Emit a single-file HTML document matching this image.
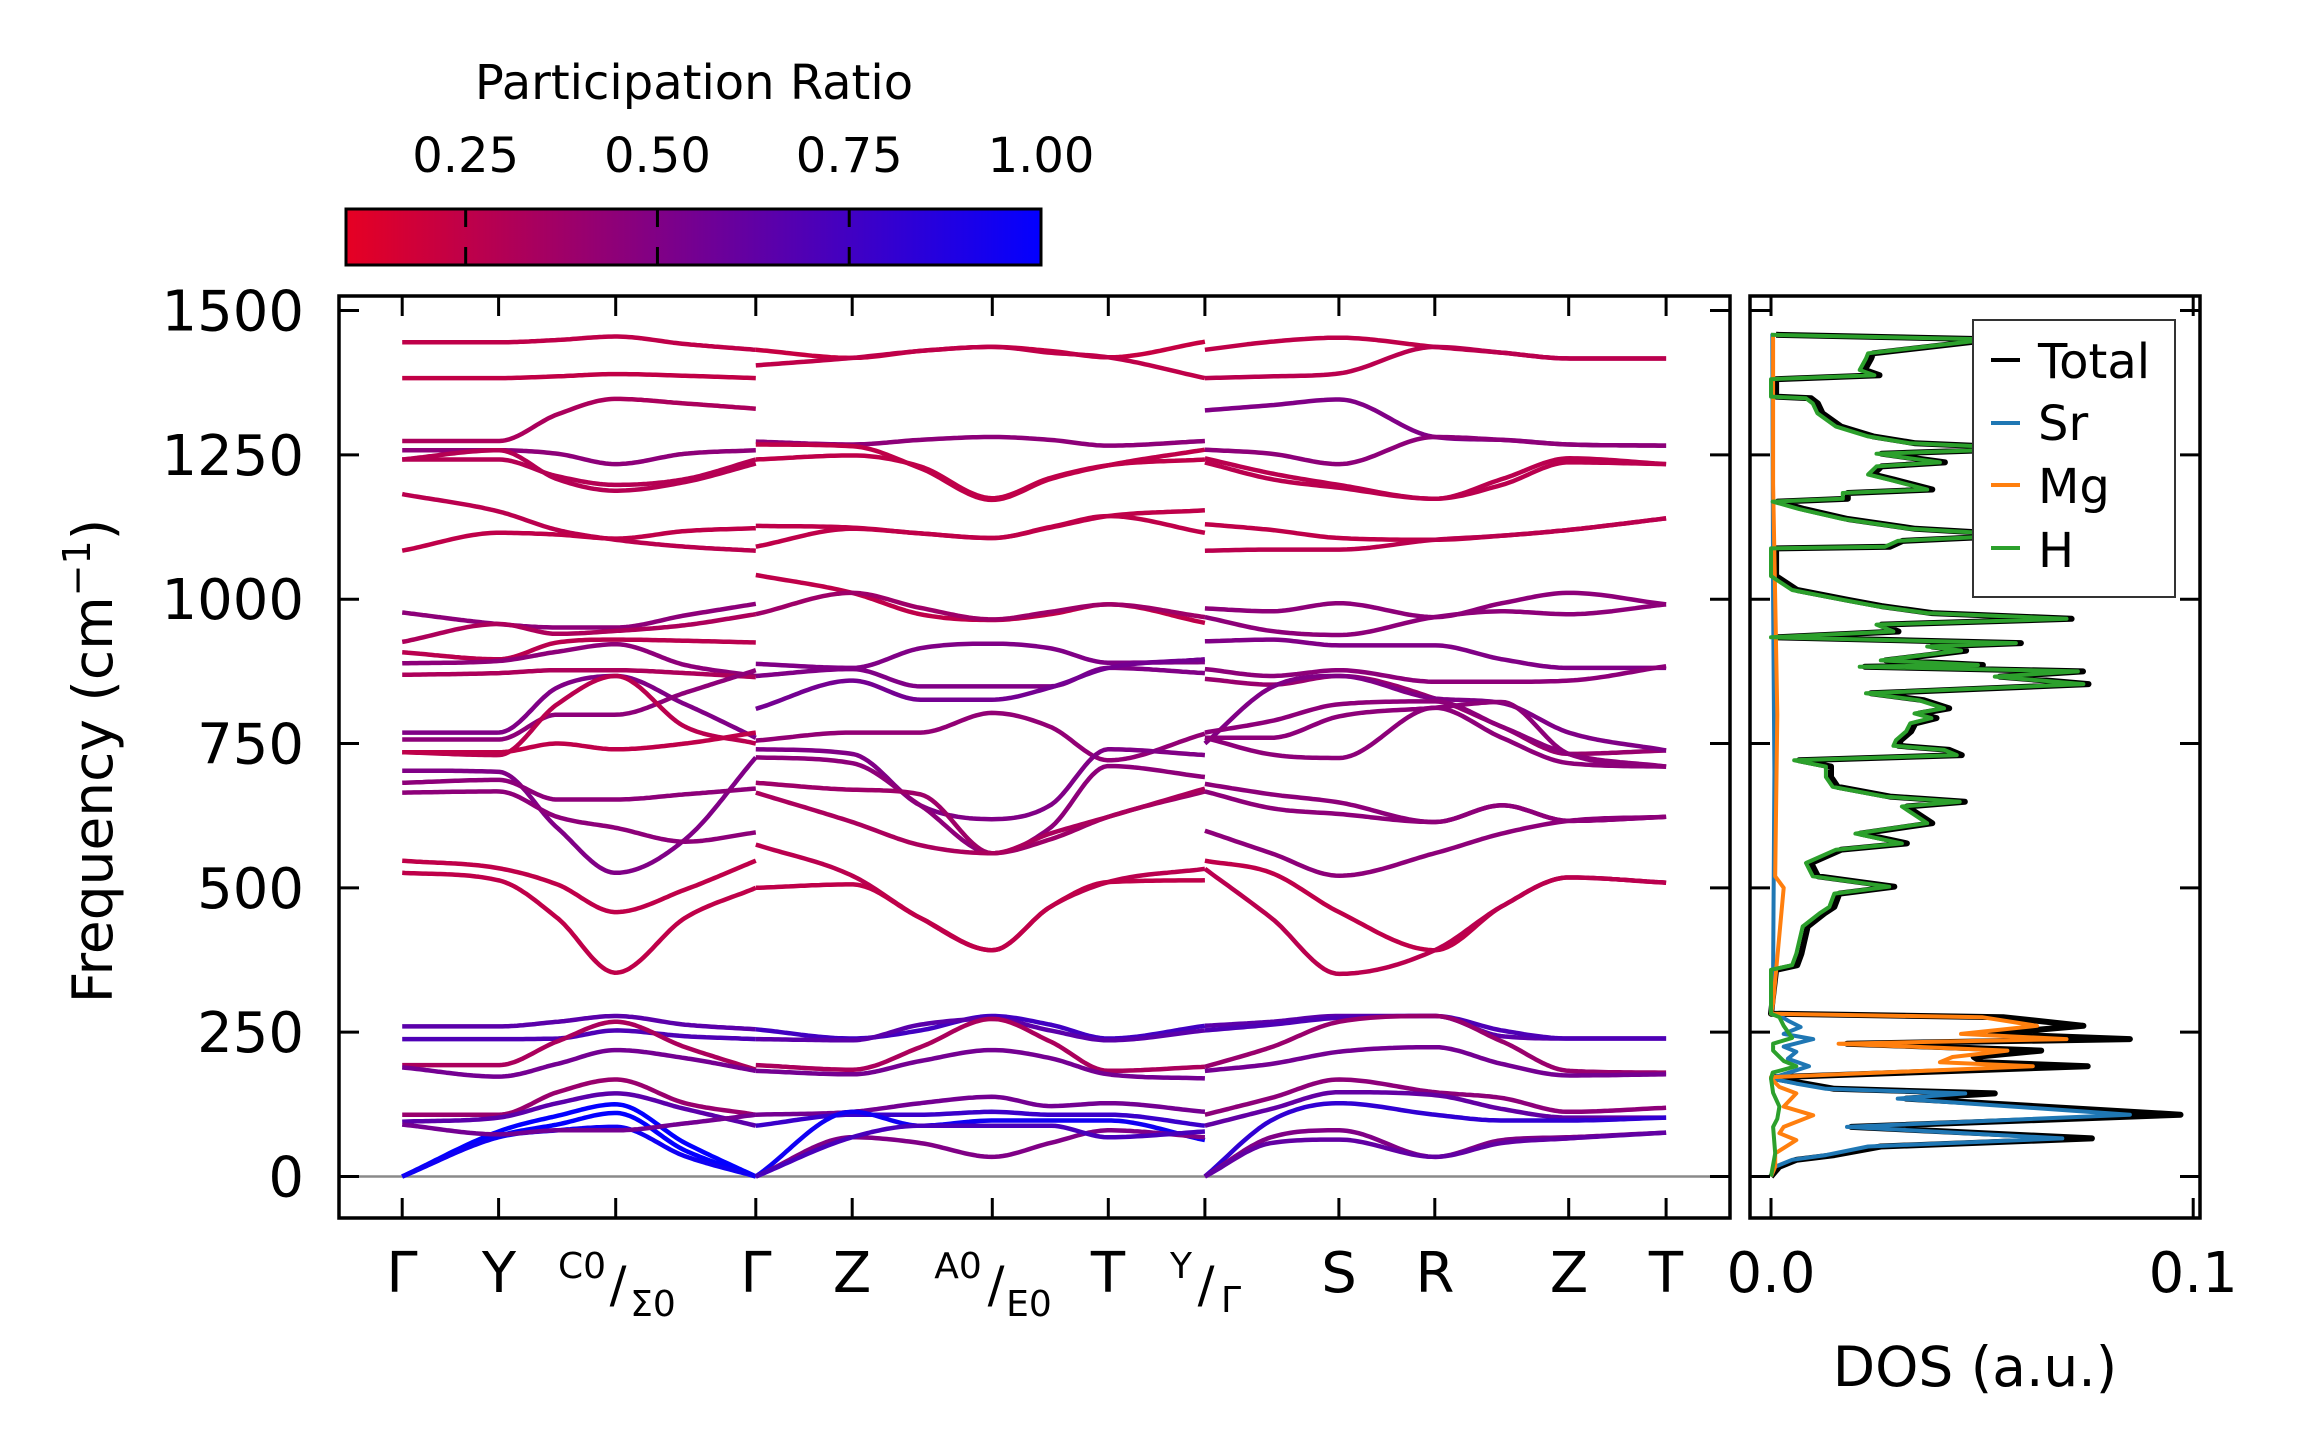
<!DOCTYPE html>
<html><head><meta charset="utf-8"><style>
html,body{margin:0;padding:0;background:#fff;}
svg{display:block;font-family:"DejaVu Sans","Liberation Sans",sans-serif;}
</style></head><body>
<svg id="fig" xmlns="http://www.w3.org/2000/svg" width="2298" height="1455" viewBox="0 0 2298 1455">
<rect x="0" y="0" width="2298" height="1455" fill="#fff"/>
<defs><linearGradient id="cmap" x1="0" x2="1" y1="0" y2="0"><stop offset="0" stop-color="rgb(230,0,35)"/><stop offset="1" stop-color="rgb(3,0,255)"/></linearGradient></defs>
<g id="colorbar">
<text x="694" y="99" font-size="48" text-anchor="middle">Participation Ratio</text>
<rect x="346" y="209" width="695" height="56" fill="url(#cmap)" stroke="#000" stroke-width="3"/>
</g>
<g id="bands"></g>
<g id="dos"></g>
<g id="axes"></g>
<text transform="translate(112,761) rotate(-90)" font-size="55" text-anchor="middle">Frequency (cm<tspan font-size="38" dy="-22">−1</tspan><tspan dy="22">)</tspan></text>
<text x="1975" y="1386" font-size="55" text-anchor="middle">DOS (a.u.)</text>
<g font-size="56" text-anchor="middle">
<text x="402" y="1292">Γ</text><text x="499" y="1292">Y</text>
<text x="582" y="1278" font-size="36">C0</text><text x="618" y="1302" font-size="50">/</text><text x="653" y="1316" font-size="36">Σ0</text>
<text x="756" y="1292">Γ</text><text x="852" y="1292">Z</text>
<text x="958" y="1278" font-size="36">A0</text><text x="996" y="1302" font-size="50">/</text><text x="1029" y="1316" font-size="36">E0</text>
<text x="1108" y="1292">T</text>
<text x="1181" y="1278" font-size="36">Y</text><text x="1206" y="1302" font-size="50">/</text><text x="1231" y="1312" font-size="36">Γ</text>
<text x="1339" y="1292">S</text><text x="1435" y="1292">R</text><text x="1569" y="1292">Z</text><text x="1666" y="1292">T</text>
</g>
<g>
<rect x="1973" y="320" width="202" height="277" fill="#fff" stroke="#333" stroke-width="2"/>
<line x1="1991" x2="2020" y1="360" y2="360" stroke="#000" stroke-width="4"/>
<text x="2038" y="378" font-size="48">Total</text>
<line x1="1991" x2="2020" y1="423" y2="423" stroke="#1f77b4" stroke-width="4"/>
<text x="2038" y="440" font-size="48">Sr</text>
<line x1="1991" x2="2020" y1="485" y2="485" stroke="#ff7f0e" stroke-width="4"/>
<text x="2038" y="503" font-size="48">Mg</text>
<line x1="1991" x2="2020" y1="548" y2="548" stroke="#2ca02c" stroke-width="4"/>
<text x="2038" y="567" font-size="48">H</text>
</g>
</svg>
<script>
const freqTicks=[0,250,500,750,1000,1250,1500];
const kTickPos=[0,0.0964,0.2135,0.3536,0.45,0.5901,0.7061,0.8027,0.9367,1.0326,1.1665,1.2639];
const cbTicks=[0.25,0.5,0.75,1.0];
const cbTickLabels=["0.25","0.50","0.75","1.00"];
const dosTicks=[0.0,0.1];
const dosTickLabels=["0.0","0.1"];

const p1K=[0,0.0964,0.155,0.2135,0.283,0.3536];
const p1Bands=[
[1445,1445,1449,1455,1442,1432],[1383,1383,1386,1390,1387,1383],[1274,1274,1320,1347,1339,1330],
[1258,1258,1252,1234,1252,1258],[1242,1242,1213,1198,1208,1242],[1242,1258,1208,1188,1203,1235],
[1182,1152,1120,1103,1091,1084],[1084,1115,1112,1105,1118,1123],[977,957,951,951,972,992],
[926,957,940,945,955,974],[908,896,925,930,928,925],[889,893,909,922,886,867],[869,872,877,877,872,865],
[769,769,847,867,818,760],[757,757,800,800,838,877],[735,730,818,867,779,750],[735,735,750,740,750,769],
[703,701,604,526,584,726],[682,687,653,653,662,672],[665,667,623,604,580,596],[547,534,506,458,497,547],
[526,513,448,353,448,500],[260,260,268,278,263,255],[238,238,239,253,243,238],[193,193,234,268,224,185],
[189,173,195,219,205,183],[107,107,146,168,127,107],[95,102,127,144,117,88],[0,78,105,125,58,0],
[0,70,90,110,45,0],[0,68,80,86,35,0],[90,73,80,80,92,107]];
const p1PR=[.25,.24,.33,.45,.29,.29,.27,.25,.45,.32,.27,.45,.32,.5,.45,.27,.25,.5,.45,.45,.25,.25,.65,.7,.33,.55,.4,.65,1.0,1.0,.95,.55];

const p2K=[0.3536,0.45,0.518,0.5901,0.648,0.7061,0.8027];
const p2Bands=[
[1432,1418,1430,1437,1430,1419,1446],[1405,1418,1430,1437,1427,1419,1383],[1273,1268,1276,1281,1276,1266,1274],
[1268,1265,1227,1172,1208,1232,1259],[1242,1249,1230,1175,1210,1232,1242],[1127,1124,1114,1106,1124,1144,1154],
[1091,1122,1114,1106,1125,1144,1115],[1042,1011,974,964,974,991,959],[974,1011,985,965,978,991,969],
[888,881,915,923,915,890,891],[867,879,849,849,849,881,872],[810,859,826,826,847,881,896],
[755,769,769,803,779,721,767],[740,732,643,619,643,740,730],[726,716,643,560,604,711,692],
[682,670,662,560,584,623,667],[665,614,574,560,594,623,672],[575,521,448,392,467,510,533],
[500,506,448,392,467,510,513],[255,239,253,278,263,239,261],[238,236,263,273,253,236,253],
[193,185,224,273,234,183,190],[183,177,200,219,205,177,170],[107,112,127,138,122,127,112],
[88,107,107,112,107,107,88],[0,112,88,97,97,97,63],[0,68,58,34,58,80,68],[0,68,88,88,88,68,78]];
const p2PR=[.22,.25,.45,.25,.25,.25,.25,.25,.38,.5,.5,.55,.43,.5,.45,.38,.33,.27,.25,.75,.65,.33,.55,.55,.78,.95,.5,.72];

const p3K=[0.8027,0.869,0.9367,1.0326,1.0997,1.1665,1.2639];
const p3Bands=[
[1432,1446,1453,1437,1427,1417,1417],[1383,1386,1391,1437,1427,1417,1417],[1327,1336,1346,1281,1276,1268,1266],
[1259,1252,1234,1281,1276,1268,1266],[1244,1218,1198,1174,1208,1244,1234],[1237,1208,1193,1174,1198,1237,1234],
[1130,1120,1106,1103,1110,1120,1140],[1084,1086,1086,1103,1110,1120,1140],[984,979,993,969,993,1011,991],
[969,945,938,969,979,974,991],[927,930,920,920,896,881,881],[879,867,877,857,857,859,884],
[862,852,867,828,779,732,738],[750,847,867,828,820,769,738],[769,789,818,823,779,732,710],
[760,760,797,812,822,732,710],[760,731,725,812,760,716,710],[680,662,648,614,643,616,623],
[667,638,628,614,643,616,623],[599,560,521,560,594,616,623],[547,526,458,392,468,518,509],
[533,448,351,392,468,518,509],[261,268,278,278,243,239,239],[253,263,275,278,253,239,239],
[190,224,268,278,234,183,180],[183,195,216,224,195,175,177],[107,136,168,146,136,112,119],
[88,117,146,141,117,102,102],[0,97,127,107,97,97,102],[0,68,80,34,63,68,76],[0,58,64,34,58,66,76]];
const p3PR=[.25,.27,.5,.45,.27,.27,.25,.27,.45,.45,.5,.45,.4,.5,.45,.45,.45,.45,.45,.45,.25,.27,.65,.7,.4,.55,.45,.62,.82,.5,.62];

const hFreq=[0,40,86,100,121,145,170,180,191,200,218,230,240,261,276,282,358,366,386,433,456,467,490,502,509,520,543,566,577,594,612,641,649,658,675,692,710,721,730,739,746,756,771,785,794,802,811,825,837,853,866,875,883,886,894,911,918,924,934,944,956,966,976,988,999,1016,1040,1088,1091,1101,1111,1122,1139,1156,1169,1174,1184,1190,1207,1216,1230,1237,1252,1261,1270,1282,1299,1322,1339,1348,1351,1381,1388,1397,1417,1426,1450,1458];
const hDos=[0,0.001,0.0005,0.0015,0.002,0.0005,0,0.0004,0.006,0.003,0.0005,0.0005,0.005,0.003,0.002,0,0,0.005,0.006,0.0075,0.0115,0.0138,0.015,0.028,0.021,0.0099,0.0083,0.0154,0.031,0.020,0.037,0.031,0.0447,0.027,0.0146,0.013,0.013,0.0055,0.044,0.041,0.029,0.0296,0.032,0.033,0.038,0.034,0.041,0.035,0.0225,0.074,0.053,0.0727,0.021,0.049,0.026,0.045,0.037,0.058,0,0.029,0.025,0.070,0.037,0.025,0.017,0.005,0,0,0.027,0.030,0.059,0.033,0.017,0.0067,0.0004,0.017,0.017,0.037,0.028,0.023,0.025,0.040,0.025,0.0615,0.033,0.023,0.0154,0.011,0.0099,0.0083,0,0,0.0245,0.021,0.0225,0.023,0.0516,0];
const srFreq=[0,17,29,37,52,66,86,107,135,144,152,161,170,191,204,216,225,238,247,259,270,279,282,350,700,1000,1460];
const srDos=[0,0.001,0.005,0.013,0.023,0.069,0.018,0.085,0.030,0.046,0.013,0.006,0,0.009,0.004,0.006,0.003,0.010,0.003,0.007,0.004,0.002,0,0.0005,0.0008,0.0005,0.0003];
const mgFreq=[0,17,40,63,75,86,106,121,144,155,170,172,191,198,207,218,230,238,247,261,276,282,300,500,520,800,1200,1460];
const mgDos=[0,0.001,0.001,0.006,0.002,0.003,0.010,0.003,0.006,0.002,0,0,0.062,0.040,0.043,0.056,0.016,0.070,0.045,0.063,0.050,0,0.0005,0.003,0.001,0.0015,0.0005,0.0005];
const totFreq=[0,17,29,37,52,66,86,107,135,144,152,161,170,172,191,198,207,218,230,238,247,261,276,282];
const totDos=[0,0.002,0.006,0.015,0.026,0.076,0.019,0.097,0.032,0.053,0.015,0.008,0.001,0.001,0.075,0.050,0.048,0.064,0.018,0.085,0.052,0.074,0.055,0];

const NS="http://www.w3.org/2000/svg";
const AX={l:339,r:1730,t:296,b:1218};
const DX={l:1750,r:2200};
function yF(f){return 1176.5-0.5773*f;}
function xK(k){return 402.2+k*1000;}
function xD(d){return 1771+d*4222;}
function mk(tag,attrs,parent){const e=document.createElementNS(NS,tag);for(const k in attrs)e.setAttribute(k,attrs[k]);parent.appendChild(e);return e;}
function color(pr){let t=(pr-0.094)/0.906;t=Math.max(0,Math.min(1,t));return `rgb(${Math.round(230*(1-t)+3*t)},0,${Math.round(35*(1-t)+255*t)})`;}
function mono(xs,ys){const n=xs.length,d=[],m=new Array(n);for(let i=0;i<n-1;i++)d.push((ys[i+1]-ys[i])/(xs[i+1]-xs[i]));
m[0]=d[0];m[n-1]=d[n-2];for(let i=1;i<n-1;i++){m[i]=(d[i-1]*d[i]<=0)?0:(d[i-1]+d[i])/2;}
for(let i=0;i<n-1;i++){if(d[i]===0){m[i]=0;m[i+1]=0;continue;}const a=m[i]/d[i],b=m[i+1]/d[i],s=a*a+b*b;if(s>9){const t=3/Math.sqrt(s);m[i]=t*a*d[i];m[i+1]=t*b*d[i];}}
return function(x){let i=0;while(i<n-2&&x>xs[i+1])i++;const h=xs[i+1]-xs[i],t=(x-xs[i])/h,t2=t*t,t3=t2*t;
return (2*t3-3*t2+1)*ys[i]+(t3-2*t2+t)*h*m[i]+(-2*t3+3*t2)*ys[i+1]+(t3-t2)*h*m[i+1];};}

const bandG=document.getElementById('bands');
mk('line',{x1:AX.l,x2:AX.r,y1:yF(0),y2:yF(0),stroke:'#8a8a8a','stroke-width':2.5},bandG);
function drawPiece(K,bands,prs,name){bands.forEach((b,i)=>{const f=mono(K,b);let d='';const k0=K[0],k1=K[K.length-1];const N=120;
for(let j=0;j<=N;j++){const k=k0+(k1-k0)*j/N;d+=(j?'L':'M')+xK(k).toFixed(1)+' '+yF(Math.max(0,f(k))).toFixed(1);}
const p=mk('path',{d:d,fill:'none',stroke:color(prs[i]),'stroke-width':4.5,'stroke-linejoin':'round'},bandG);

});}
drawPiece(p1K,p1Bands,p1PR,'gamma-y-c-gamma');
drawPiece(p2K,p2Bands,p2PR,'gamma-z-a-t-y');
drawPiece(p3K,p3Bands,p3PR,'gamma-s-r-z-t');

const dosG=document.getElementById('dos');
function dosLine(F,D,col,w,name){let d='';F.forEach((f,i)=>{d+=(i?'L':'M')+xD(D[i]).toFixed(1)+' '+yF(f).toFixed(1);});
const p=mk('path',{d:d,fill:'none',stroke:col,'stroke-width':w,'stroke-linejoin':'round'},dosG);

}
const totF=totFreq.slice(),totD=totDos.slice();
hFreq.forEach((f,i)=>{if(f>282){totF.push(f);totD.push(hDos[i]+0.0012);}});
dosLine(totF,totD,'#000',6,'dos-total-line');
dosLine(srFreq,srDos,'#1f77b4',4,'dos-sr-line');
dosLine(mgFreq,mgDos,'#ff7f0e',4,'dos-mg-line');
dosLine(hFreq,hDos,'#2ca02c',4,'dos-h-line');

const axG=document.getElementById('axes');
function tl(x1,y1,x2,y2){mk('line',{x1:x1,y1:y1,x2:x2,y2:y2,stroke:'#000','stroke-width':3},axG);}
const ma=mk('rect',{x:AX.l,y:AX.t,width:AX.r-AX.l,height:AX.b-AX.t,fill:'none',stroke:'#000','stroke-width':3.5},axG);


const da=mk('rect',{x:DX.l,y:AX.t,width:DX.r-DX.l,height:AX.b-AX.t,fill:'none',stroke:'#000','stroke-width':3.5},axG);


freqTicks.forEach(f=>{const y=yF(f);tl(AX.l,y,AX.l+20,y);tl(AX.r,y,AX.r-20,y);tl(DX.l,y,DX.l+20,y);tl(DX.r,y,DX.r-20,y);
const t=mk('text',{x:304,y:y+20,'font-size':56,'text-anchor':'end'},axG);t.textContent=f;

});
kTickPos.forEach(k=>{const x=xK(k);tl(x,AX.b,x,AX.b-20);tl(x,AX.t,x,AX.t+20);});
dosTicks.forEach((v,i)=>{const x=xD(v);tl(x,AX.b,x,AX.b-20);tl(x,AX.t,x,AX.t+20);
const t=mk('text',{x:x,y:1292,'font-size':56,'text-anchor':'middle'},axG);t.textContent=dosTickLabels[i];

});
const cbG=document.getElementById('colorbar');
function xC(v){return 346+(v-0.094)/0.906*695;}
cbTicks.forEach((v,i)=>{const x=xC(v);if(v<1){mk('line',{x1:x,x2:x,y1:209,y2:227,stroke:'#000','stroke-width':3},cbG);mk('line',{x1:x,x2:x,y1:247,y2:265,stroke:'#000','stroke-width':3},cbG);}
const t=mk('text',{x:x,y:172,'font-size':48,'text-anchor':'middle'},cbG);t.textContent=cbTickLabels[i];

});
</script>
</body></html>
